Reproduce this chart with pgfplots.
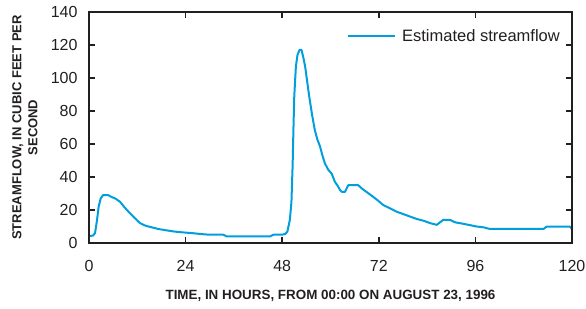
\documentclass[border=0pt]{standalone}
\usepackage{pgfplots}
\pgfplotsset{compat=1.18}
\usepackage{fontspec}
\setmainfont{Liberation Sans}
\definecolor{flow}{RGB}{0,158,219}
\definecolor{axisk}{RGB}{35,31,32}
\begin{document}
\begin{tikzpicture}
\begin{axis}[
  name=ax,
  scale only axis,
  width=483pt, height=231pt,
  xmin=0, xmax=120, ymin=0, ymax=140,
  xtick={0,24,...,120}, ytick={0,20,...,140},
  tick pos=both,
  tick align=inside,
  major tick length=6pt,
  axis line style={line width=2.4pt, axisk},
  tick style={line width=1.6pt, axisk},
  /pgf/number format/assume math mode=true,
  tick label style={font=\fontsize{16}{16}\selectfont, text=axisk},
  xticklabel shift=14pt,
  yticklabel shift=8pt,
  xlabel={\textbf{TIME, IN HOURS, FROM 00:00 ON AUGUST 23, 1996}},
  xlabel style={at={(axis description cs:0.5,0)}, anchor=center, yshift=-53pt, font=\fontsize{13.4}{16}\selectfont, text=axisk},
  ylabel={\textbf{STREAMFLOW, IN CUBIC FEET PER}\\\textbf{SECOND}},
  ylabel style={at={(axis description cs:0,0.5)}, anchor=center, yshift=64pt, align=center, font=\fontsize{13}{16}\selectfont, text=axisk},
  legend style={draw=none, fill=none, at={(1,1)}, anchor=north east, xshift=-10pt, yshift=-15pt, font=\fontsize{16.5}{16.5}\selectfont, text=axisk, inner sep=0pt},
  legend image code/.code={\draw[#1, line width=2pt] (0pt,0pt) -- (47pt,0pt); \path (51pt,0pt);},
  legend cell align=left,
]
\addplot[flow, line width=2pt, line join=round] coordinates {
(0,4.2) (1.0,4.5) (1.5,6) (2.0,14) (2.4,22) (2.9,27) (3.5,29) (4.8,29)
(5.5,28) (6.5,27) (7.7,25) (8.7,22) (9.8,19) (11.2,15.5) (12.7,12) (14.0,10.5)
(15.6,9.5) (17.2,8.5) (18.9,7.8) (21.0,7) (23.0,6.5) (25.5,6) (28.4,5.3) (30.0,5)
(33.4,5) (34.2,4) (45.0,4) (45.8,5) (47.9,5) (48.8,5.5) (49.3,7) (49.9,14)
(50.3,25) (50.6,48) (50.8,70) (51.0,89) (51.4,107) (51.8,114) (52.3,117) (52.8,117)
(53.2,113) (53.7,107) (54.2,98) (54.7,89) (55.4,78) (56.1,68.5) (56.7,63) (57.4,58.5)
(58.0,53) (58.6,48.3) (59.4,44.5) (60.3,42) (61.1,37) (61.7,35) (62.4,32) (62.8,31)
(63.6,31) (64.0,33) (64.4,35) (66.9,35) (67.8,33) (69.2,30.5) (70.6,28) (71.9,25.5)
(73.1,23) (74.8,21) (76.4,19) (78.1,17.5) (79.8,16) (81.5,14.5) (83.1,13.5) (84.8,12)
(86.4,11) (87.2,12.5) (88.0,14) (89.7,14) (91.0,12.5) (92.2,12) (94.3,11) (96.3,10)
(98.0,9.5) (99.6,8.5) (112.9,8.5) (113.7,9.9) (119.5,9.9) (120,8.5)
};
\addlegendentry{Estimated streamflow}
\end{axis}
\draw[line width=2.4pt, axisk] (ax.south west) rectangle (ax.north east);
\pgfresetboundingbox
\path ([shift={(-89pt,-66pt)}]ax.south west) rectangle ([shift={(14pt,12pt)}]ax.north east);
\end{tikzpicture}
\end{document}
